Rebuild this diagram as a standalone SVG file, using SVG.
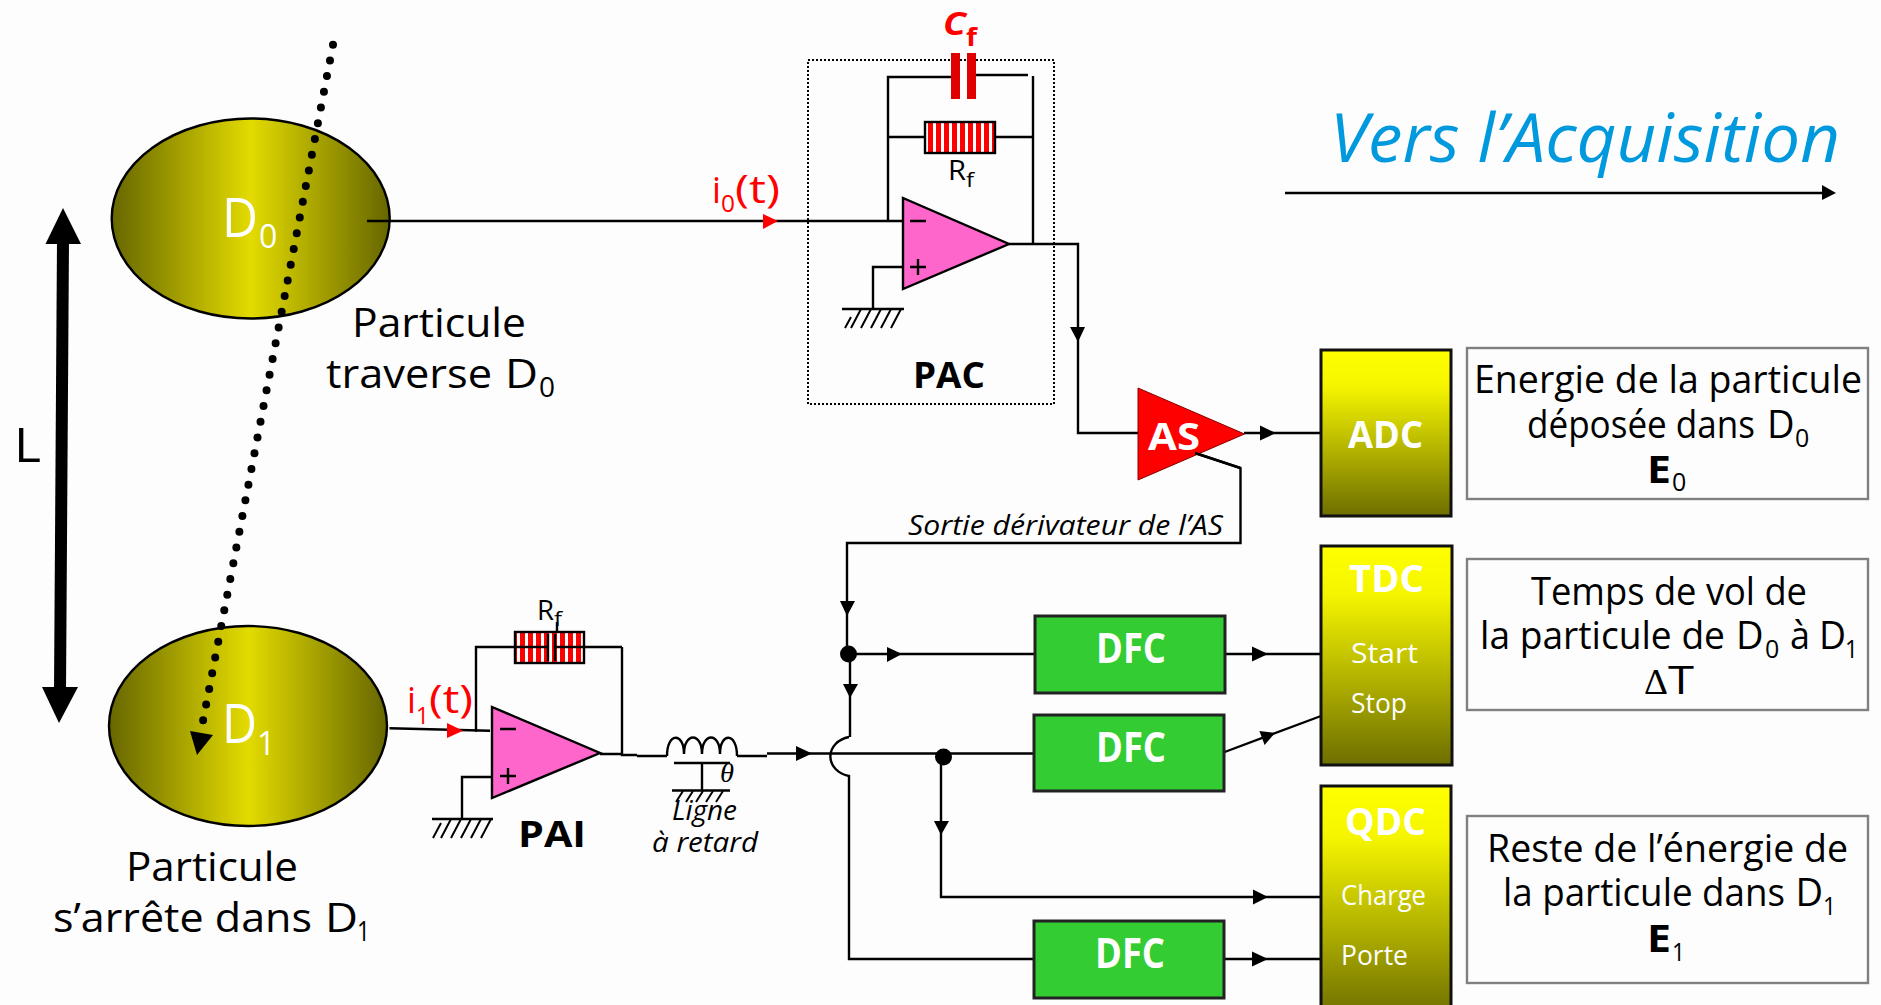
<svg xmlns="http://www.w3.org/2000/svg" width="1881" height="1005" viewBox="0 0 1881 1005">
<style>
text{font-family:"Open Sans","DejaVu Sans",sans-serif;fill:#000;font-size:38px}
.w{fill:#fff}.r{fill:#f00}.b{font-weight:700}.i{font-style:italic}
.s{font-size:25px}.sm{font-size:26px}.t{font-size:27px}.big{font-size:41px}
.l{fill:none;stroke:#000;stroke-width:2.4}
.thin{fill:none;stroke:#000;stroke-width:2}
.a{fill:#000}.ra{fill:#f00}
.amp{fill:#ff66cc;stroke:#000;stroke-width:2.4}
.box{fill:url(#gv);stroke:#111;stroke-width:3}
.dfc{fill:#33cc33;stroke:#222;stroke-width:3}
.info{fill:none;stroke:#808080;stroke-width:2.4}
.det{fill:url(#gh);stroke:#000;stroke-width:2.4}
.res{fill:url(#stripes);stroke:#000;stroke-width:2.4}
</style>
<defs>
<linearGradient id="gh"><stop offset="0" stop-color="#666600"/><stop offset=".5" stop-color="#e3db00"/><stop offset="1" stop-color="#666600"/></linearGradient>
<linearGradient id="gv" x2="0" y2="1"><stop offset="0" stop-color="#ffff00"/><stop offset=".22" stop-color="#f5f500"/><stop offset="1" stop-color="#6e6e00"/></linearGradient>
<pattern id="stripes" width="8" height="10" patternUnits="userSpaceOnUse"><rect width="8" height="10" fill="#f00"/><rect x="5" width="3" height="10" fill="#fff"/></pattern>
</defs>
<rect width="1881" height="1005" fill="#fdfdfd"/>

<g id="detecteur-D0">
<ellipse class="det" cx="250.7" cy="218.500" rx="139" ry="100"/>
<text class="w" x="222" y="237" style="font-size:54px" textLength="36" lengthAdjust="spacingAndGlyphs">D</text>
<text class="w" x="259" y="248" style="font-size:32px">0</text>
</g>
<g id="detecteur-D1">
<ellipse class="det" cx="248" cy="726" rx="139" ry="100"/>
<text class="w" x="222" y="743" style="font-size:54px" textLength="35" lengthAdjust="spacingAndGlyphs">D</text>
<text class="w" x="257" y="755" style="font-size:32px">1</text>
</g>

<g id="connectors">
<path d="M367 221H903M888 221V77H951M975 75H1028M1033 76V244M888 137H925M995 137H1033M903 267H873V309M1009 244H1078V433H1138" class="l"/>
<path d="M842 309H904M1244 433H1321M1195 453L1240.500 468V543H847V654M848 654H1034M850 654V737M849 737A24 20 0 0 0 849 776V959H1034M622 647V755H637M637 756H667M737 756H767M767 753.500H1034M941 757V897H1321M1222 654H1322M1222 753L1321 716M1224 959H1322" class="l"/>
<path d="M389.500 728.300L490 730.700M476 732V647H515M584 647H622M600 754H622M492 777H462V819M432 819H493" class="l"/>
<path d="M667 756C667 732 684 732 684 754C684 732 702 732 702 754C702 732 720 732 720 754C720 732 737 732 737 756" class="l"/>
<path d="M674 763H730M702 763V790M672 790.500H730" class="l"/>
<path d="M851 328L861 309M861 328L871 309M871 328L881 309M881 328L891 309M891 328L901 309M845 328L851 317" class="thin"/>
<path d="M441 838L451 819M451 838L461 819M461 838L471 819M471 838L481 819M481 838L491 819M433 838L441 823" class="thin"/>
<path d="M676 802L683 791M686 802L693 791M696 802L703 791M706 802L713 791M716 802L723 791" class="thin"/>
<path d="M1285 193H1824" class="l"/>
<polygon class="a" points="1836,193 1822,185 1822,200"/>
<polygon class="ra" points="778,221 763,214 763,229"/>
<polygon class="ra" points="463,730.700 447,723 447,738"/>
<polygon class="a" points="1078,342 1070,327 1085,327"/>
<polygon class="a" points="1276,433 1260,425.500 1260,440.500"/>
<polygon class="a" points="847,616 840,601 855,601"/>
<polygon class="a" points="902,654 887,647 887,662"/>
<polygon class="a" points="850,698 843,684 858,684"/>
<polygon class="a" points="812,753.500 796,746 796,761"/>
<polygon class="a" points="941,835 934,821 949,821"/>
<polygon class="a" points="1268,654 1252,646.500 1252,661.500"/>
<polygon class="a" points="1275,733 1259.400,731 1264.600,745"/>
<polygon class="a" points="1268,897 1253,889.500 1253,904.500"/>
<polygon class="a" points="1268,959 1252,951.500 1252,966.500"/>
<ellipse class="a" cx="848.500" cy="654" rx="8.500" ry="8.500"/>
<ellipse class="a" cx="943.500" cy="757" rx="8.500" ry="8.500"/>
<path d="M333 44.700L203 721" fill="none" stroke="#000" stroke-width="8" stroke-linecap="round" stroke-dasharray="0 16"/>
<polygon class="a" points="197,755 190,731 213,735"/>
<path d="M63 240L60 690" fill="none" stroke="#000" stroke-width="12"/>
<polygon class="a" points="63,208 45.500,244 81,244"/>
<polygon class="a" points="59,723 42,687 78,687"/>
</g>

<g id="PAC">
<rect x="808" y="60" width="246" height="344" fill="none" stroke="#000" stroke-width="2" stroke-dasharray="2 2"/>
<polygon class="amp" points="903,198 903,289 1009,244"/>
<path d="M910 221H926M910 267H926M918 259V275" class="l"/>
<rect class="res" x="925" y="122" width="70" height="31"/>
<rect x="951" y="53" width="9" height="46" fill="#e00000"/>
<rect x="967" y="53" width="9" height="46" fill="#e00000"/>
<text class="sm" x="948" y="180" style="font-size:28px" textLength="18" lengthAdjust="spacingAndGlyphs">R</text>
<text x="966" y="187" style="font-size:20px" textLength="8" lengthAdjust="spacingAndGlyphs">f</text>
<text class="r b i" x="943" y="35" style="font-size:32px" textLength="23" lengthAdjust="spacingAndGlyphs">C</text>
<text class="r b" x="966" y="46" style="font-size:25px" textLength="11" lengthAdjust="spacingAndGlyphs">f</text>
<text class="b" x="913" y="388" style="font-size:36px" textLength="72" lengthAdjust="spacingAndGlyphs">PAC</text>
</g>

<g id="PAI">
<polygon class="amp" points="492,707 492,798 600,753"/>
<path d="M500 729H516M500 776H516M508 768V784" class="l"/>
<rect class="res" x="515" y="632" width="69" height="31"/>
<path d="M515 647H548M548 634V661M555 634V661M555 647H584M557 632V622" class="l"/>
<text class="sm" x="537" y="620" style="font-size:28px" textLength="17" lengthAdjust="spacingAndGlyphs">R</text>
<text x="554" y="626" style="font-size:20px" textLength="8" lengthAdjust="spacingAndGlyphs">f</text>
<text class="b" x="518" y="847" style="font-size:36px" textLength="68" lengthAdjust="spacingAndGlyphs">PAI</text>
</g>

<g id="AS">
<polygon points="1138,388 1138,480 1244.500,434" fill="#f00" stroke="#800" stroke-width="1"/>
<path d="M1195 453L1240.500 468" class="l"/>
<text class="w b" x="1148" y="450" style="font-size:38px" textLength="52" lengthAdjust="spacingAndGlyphs">AS</text>
</g>

<g id="ADC">
<rect class="box" x="1321" y="350" width="130" height="166"/>
<text class="w b" x="1348" y="448" textLength="75" lengthAdjust="spacingAndGlyphs">ADC</text>
</g>
<g id="TDC">
<rect class="box" x="1321" y="546" width="131" height="219"/>
<text class="w b" x="1349" y="592" textLength="75" lengthAdjust="spacingAndGlyphs">TDC</text>
<text class="w t" x="1351" y="663" textLength="67" lengthAdjust="spacingAndGlyphs">Start</text>
<text class="w t" x="1351" y="713" textLength="56" lengthAdjust="spacingAndGlyphs">Stop</text>
</g>
<g id="QDC">
<rect class="box" x="1321" y="786" width="130" height="232"/>
<text class="w b" x="1345" y="835" textLength="81" lengthAdjust="spacingAndGlyphs">QDC</text>
<text class="w t" x="1341" y="905" textLength="85" lengthAdjust="spacingAndGlyphs">Charge</text>
<text class="w t" x="1341" y="965" textLength="67" lengthAdjust="spacingAndGlyphs">Porte</text>
</g>
<g id="DFC-1">
<rect class="dfc" x="1035" y="616" width="190" height="77"/>
<text class="w b" x="1096" y="663" style="font-size:41px" textLength="70" lengthAdjust="spacingAndGlyphs">DFC</text>
</g>
<g id="DFC-2">
<rect class="dfc" x="1034" y="715" width="190" height="76"/>
<text class="w b" x="1096" y="762" style="font-size:41px" textLength="70" lengthAdjust="spacingAndGlyphs">DFC</text>
</g>
<g id="DFC-3">
<rect class="dfc" x="1034" y="921" width="190" height="77"/>
<text class="w b" x="1095" y="968" style="font-size:41px" textLength="70" lengthAdjust="spacingAndGlyphs">DFC</text>
</g>

<g id="info-E0">
<rect class="info" x="1467" y="348" width="401" height="151"/>
<text x="1474" y="393" textLength="388" lengthAdjust="spacingAndGlyphs">Energie de la particule</text>
<text x="1527" y="438" textLength="228" lengthAdjust="spacingAndGlyphs">déposée dans</text>
<text x="1767" y="438">D</text>
<text class="s" x="1795" y="447">0</text>
<text class="b" x="1647" y="483" textLength="24" lengthAdjust="spacingAndGlyphs">E</text>
<text class="s" x="1672" y="491">0</text>
</g>
<g id="info-T">
<rect class="info" x="1467" y="559" width="401" height="151"/>
<text x="1531" y="605" textLength="276" lengthAdjust="spacingAndGlyphs">Temps de vol de</text>
<text x="1480" y="649" textLength="245" lengthAdjust="spacingAndGlyphs">la particule de</text>
<text x="1736" y="649">D</text>
<text class="s" x="1765" y="658">0</text>
<text x="1790" y="649" textLength="20" lengthAdjust="spacingAndGlyphs">à</text>
<text x="1819" y="649" textLength="27" lengthAdjust="spacingAndGlyphs">D</text>
<text class="s" x="1845" y="658" textLength="13" lengthAdjust="spacingAndGlyphs">1</text>
<text x="1644" y="694" style="font-family:'Liberation Serif',serif;font-size:36px" textLength="24" lengthAdjust="spacingAndGlyphs">Δ</text>
<text x="1668" y="694" textLength="26" lengthAdjust="spacingAndGlyphs">T</text>
</g>
<g id="info-E1">
<rect class="info" x="1467" y="816" width="401" height="167"/>
<text x="1487" y="862" textLength="361" lengthAdjust="spacingAndGlyphs">Reste de l’énergie de</text>
<text x="1503" y="906" textLength="282" lengthAdjust="spacingAndGlyphs">la particule dans</text>
<text x="1795.500" y="906">D</text>
<text class="s" x="1823" y="915" textLength="13" lengthAdjust="spacingAndGlyphs">1</text>
<text class="b" x="1647" y="952" textLength="24" lengthAdjust="spacingAndGlyphs">E</text>
<text class="s" x="1672" y="961" textLength="13" lengthAdjust="spacingAndGlyphs">1</text>
</g>

<g id="labels">
<text x="14" y="462" style="font-size:48px" textLength="27" lengthAdjust="spacingAndGlyphs">L</text>
<text class="big" x="352" y="337" textLength="174" lengthAdjust="spacingAndGlyphs">Particule</text>
<text class="big" x="326" y="388" textLength="166" lengthAdjust="spacingAndGlyphs">traverse</text>
<text class="big" x="505" y="388" textLength="33" lengthAdjust="spacingAndGlyphs">D</text>
<text class="s" x="539" y="397" style="font-size:28px">0</text>
<text class="big" x="126" y="881" textLength="172" lengthAdjust="spacingAndGlyphs">Particule</text>
<text class="big" x="53" y="932" textLength="259" lengthAdjust="spacingAndGlyphs">s’arrête dans</text>
<text class="big" x="325" y="932" textLength="33" lengthAdjust="spacingAndGlyphs">D</text>
<text class="s" x="357" y="941" style="font-size:28px" textLength="13" lengthAdjust="spacingAndGlyphs">1</text>
<text class="r" x="712" y="203" style="font-size:36px" textLength="9" lengthAdjust="spacingAndGlyphs">i</text>
<text class="r" x="721" y="212" style="font-size:24px" textLength="14" lengthAdjust="spacingAndGlyphs">0</text>
<text class="r" x="735" y="203" style="font-size:38px" textLength="45" lengthAdjust="spacingAndGlyphs">(t)</text>
<text class="r" x="407" y="713" style="font-size:36px" textLength="9" lengthAdjust="spacingAndGlyphs">i</text>
<text class="r" x="416" y="724" style="font-size:24px" textLength="13" lengthAdjust="spacingAndGlyphs">1</text>
<text class="r" x="429" y="713" style="font-size:38px" textLength="44" lengthAdjust="spacingAndGlyphs">(t)</text>
<text class="i" x="720" y="782" style="font-family:'Liberation Serif',serif;font-size:27px" textLength="14" lengthAdjust="spacingAndGlyphs">θ</text>
<text class="i" x="672" y="820" style="font-size:27px" textLength="65" lengthAdjust="spacingAndGlyphs">Ligne</text>
<text class="i" x="652" y="852" style="font-size:27px" textLength="106" lengthAdjust="spacingAndGlyphs">à retard</text>
<text class="i" x="908" y="535" style="font-size:27px" textLength="315" lengthAdjust="spacingAndGlyphs">Sortie dérivateur de l’AS</text>
<text class="i" x="1330" y="162" style="fill:#0099dd;font-size:68px" textLength="510" lengthAdjust="spacingAndGlyphs">Vers l’Acquisition</text>
</g>
</svg>
